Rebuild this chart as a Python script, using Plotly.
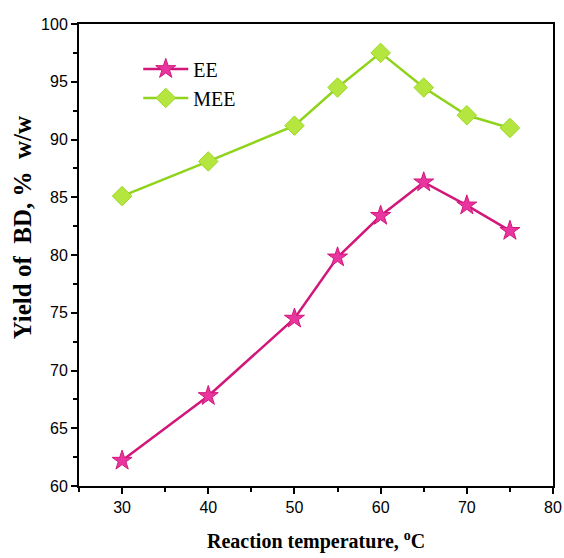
import plotly.graph_objects as go

temps = [30, 40, 50, 55, 60, 65, 70, 75]
ee_yield = [62.2, 67.8, 74.5, 79.8, 83.4, 86.3, 84.3, 82.1]
mee_yield = [85.1, 88.1, 91.2, 94.5, 97.5, 94.5, 92.1, 91.0]

x_ticks = [30, 40, 50, 60, 70, 80]
y_ticks = [60, 65, 70, 75, 80, 85, 90, 95, 100]

SERIF = "Liberation Serif, Times New Roman, serif"
SANS = "Liberation Sans, Arial, sans-serif"

fig = go.Figure()
fig.add_trace(go.Scatter(
    x=temps, y=ee_yield, name="EE", mode="lines+markers",
    line=dict(color="#d2177a", width=2.5),
    marker=dict(symbol="star", size=15, color="#e8359f",
                line=dict(color="#d2177a", width=1)),
))
fig.add_trace(go.Scatter(
    x=temps, y=mee_yield, name="MEE", mode="lines+markers",
    line=dict(color="#8fd31a", width=2.5),
    marker=dict(symbol="diamond", size=15, color="#b5e63f",
                line=dict(color="#9ad825", width=1)),
))

fig.update_layout(
    width=564, height=558,
    margin=dict(l=79, r=11, t=24, b=72, autoexpand=False),
    paper_bgcolor="white", plot_bgcolor="white",
    showlegend=True,
    legend=dict(
        x=0.125, y=0.945, xanchor="left", yanchor="top",
        bgcolor="rgba(0,0,0,0)",
        font=dict(family=SERIF, size=20, color="black"),
        itemwidth=45, tracegroupgap=0,
    ),
    font=dict(family=SANS, color="black"),
)

fig.update_xaxes(
    range=[25, 80], tickvals=x_ticks, ticktext=[str(v) for v in x_ticks],
    showgrid=False, zeroline=False, automargin=False,
    showline=True, linecolor="black", linewidth=2, mirror=True,
    ticks="outside", ticklen=6, tickwidth=1.5, tickcolor="black",
    minor=dict(dtick=5, tick0=25, ticks="outside", ticklen=4, tickwidth=1.5, tickcolor="black"),
    tickfont=dict(family=SANS, size=16, color="black"),
)
fig.update_yaxes(
    range=[60, 100], tickvals=y_ticks, ticktext=[str(v) for v in y_ticks],
    showgrid=False, zeroline=False, automargin=False,
    showline=True, linecolor="black", linewidth=2, mirror=True,
    ticks="outside", ticklen=6, tickwidth=1.5, tickcolor="black",
    minor=dict(dtick=2.5, tick0=60, ticks="outside", ticklen=4, tickwidth=1.5, tickcolor="black"),
    tickfont=dict(family=SANS, size=16, color="black"),
)

fig.add_annotation(
    text="<b>Yield of  BD, %  w/w</b>", textangle=-90,
    xref="paper", yref="paper", x=-0.12, y=0.558,
    xanchor="center", yanchor="middle", showarrow=False,
    font=dict(family=SERIF, size=25, color="black"),
)
fig.add_annotation(
    text="<b>Reaction temperature, <sup>o</sup>C</b>",
    xref="paper", yref="paper", x=0.5, y=-0.117,
    xanchor="center", yanchor="middle", showarrow=False,
    font=dict(family=SERIF, size=20, color="black"),
)

fig.write_html("out.html")
